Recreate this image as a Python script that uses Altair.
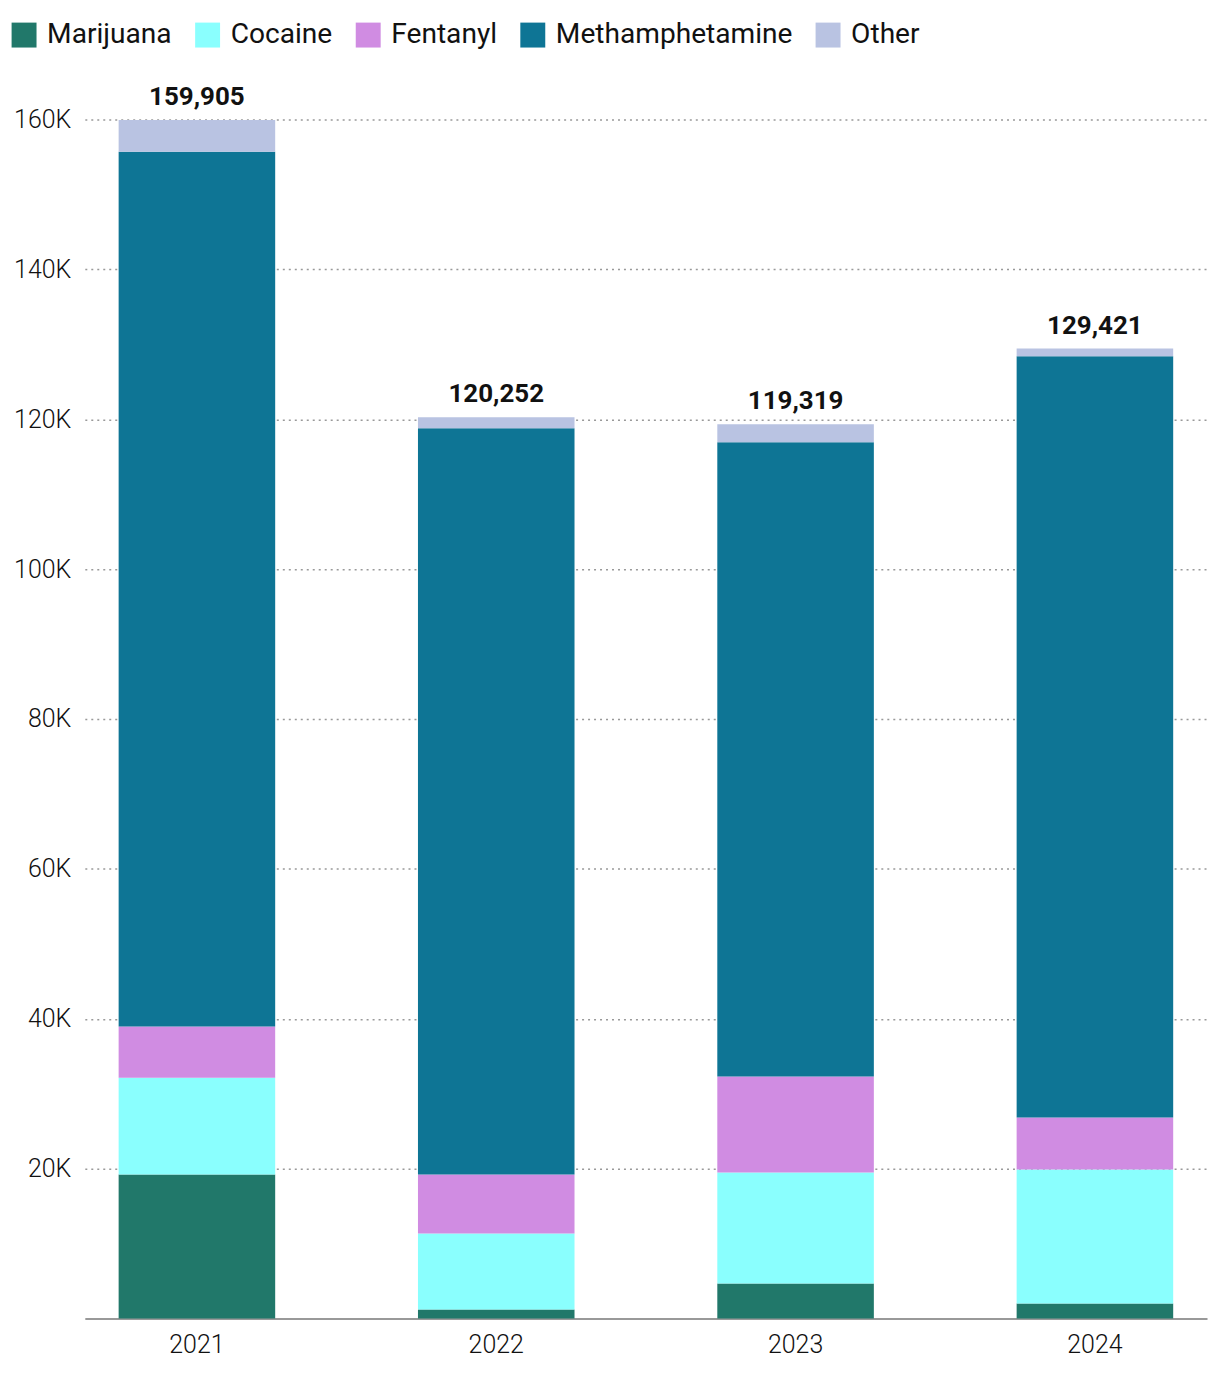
import altair as alt
import pandas as pd

years = ["2021", "2022", "2023", "2024"]
drugs = ["Marijuana", "Cocaine", "Fentanyl", "Methamphetamine", "Other"]
marijuana = [19200, 1200, 4670, 2000]
cocaine = [12900, 10130, 14800, 17870]
fentanyl = [6850, 7870, 12800, 6930]
meth = [116750, 99600, 84660, 101600]
other = [4205, 1452, 2389, 1021]
totals = [159905, 120252, 119319, 129421]
colors = ["#21786a", "#8afffe", "#d08ce2", "#0e7595", "#b9c3e2"]
y_ticks = [20000, 40000, 60000, 80000, 100000, 120000, 140000, 160000]

series = [marijuana, cocaine, fentanyl, meth, other]
rows = []
for di, (d, vals) in enumerate(zip(drugs, series)):
    for yi, y in enumerate(years):
        rows.append({"year": y, "drug": d, "value": vals[yi], "idx": di})
df = pd.DataFrame(rows)
tot = pd.DataFrame({"year": years, "total": totals,
                    "label": [f"{t:,}" for t in totals]})

FONT = "Roboto, sans-serif"

x = alt.X("year:N", title=None,
          scale=alt.Scale(paddingInner=0.477, paddingOuter=0.113),
          axis=alt.Axis(labelAngle=0, labelFontSize=25, labelFont=FONT,
                        labelFontWeight=300,
                        labelColor="#111", labelPadding=14, ticks=False,
                        domainColor="#999", domainWidth=2, grid=False))

bars = alt.Chart(df).mark_bar().encode(
    x=x,
    y=alt.Y("value:Q", stack="zero", title=None,
            scale=alt.Scale(domain=[0, 160000], nice=False),
            axis=alt.Axis(values=y_ticks, labelExpr="datum.value/1000 + 'K'",
                          labelFontSize=25, labelFont=FONT, labelFontWeight=300,
                          labelColor="#111",
                          labelPadding=14, ticks=False, domain=False,
                          grid=True, gridColor="#999", gridDash=[2, 4],
                          gridWidth=1.5)),
    color=alt.Color("drug:N", sort=drugs, title=None,
                    scale=alt.Scale(domain=drugs, range=colors),
                    legend=alt.Legend(orient="none", legendX=-75, legendY=-99,
                                      direction="horizontal", symbolType="square",
                                      symbolSize=625, symbolStrokeWidth=0,
                                      symbolOpacity=1, labelLimit=400,
                                      labelFontSize=28.2, labelFont=FONT,
                                      labelColor="#111", columnPadding=21,
                                      labelOffset=9)),
    order=alt.Order("idx:Q", sort="ascending"),
)

labels = alt.Chart(tot).mark_text(baseline="bottom", dy=-10, fontSize=26,
                                  fontWeight="bold", font=FONT,
                                  color="#111").encode(
    x=alt.X("year:N", sort=years),
    y=alt.Y("total:Q"),
    text="label:N",
)

chart = alt.layer(bars, labels).properties(
    width=1125, height=1202,
    padding={"left": 2, "top": 11, "right": 5, "bottom": 5},
).configure_view(stroke=None)

chart.save("out.html", embed_options={"renderer": "svg", "actions": False})
